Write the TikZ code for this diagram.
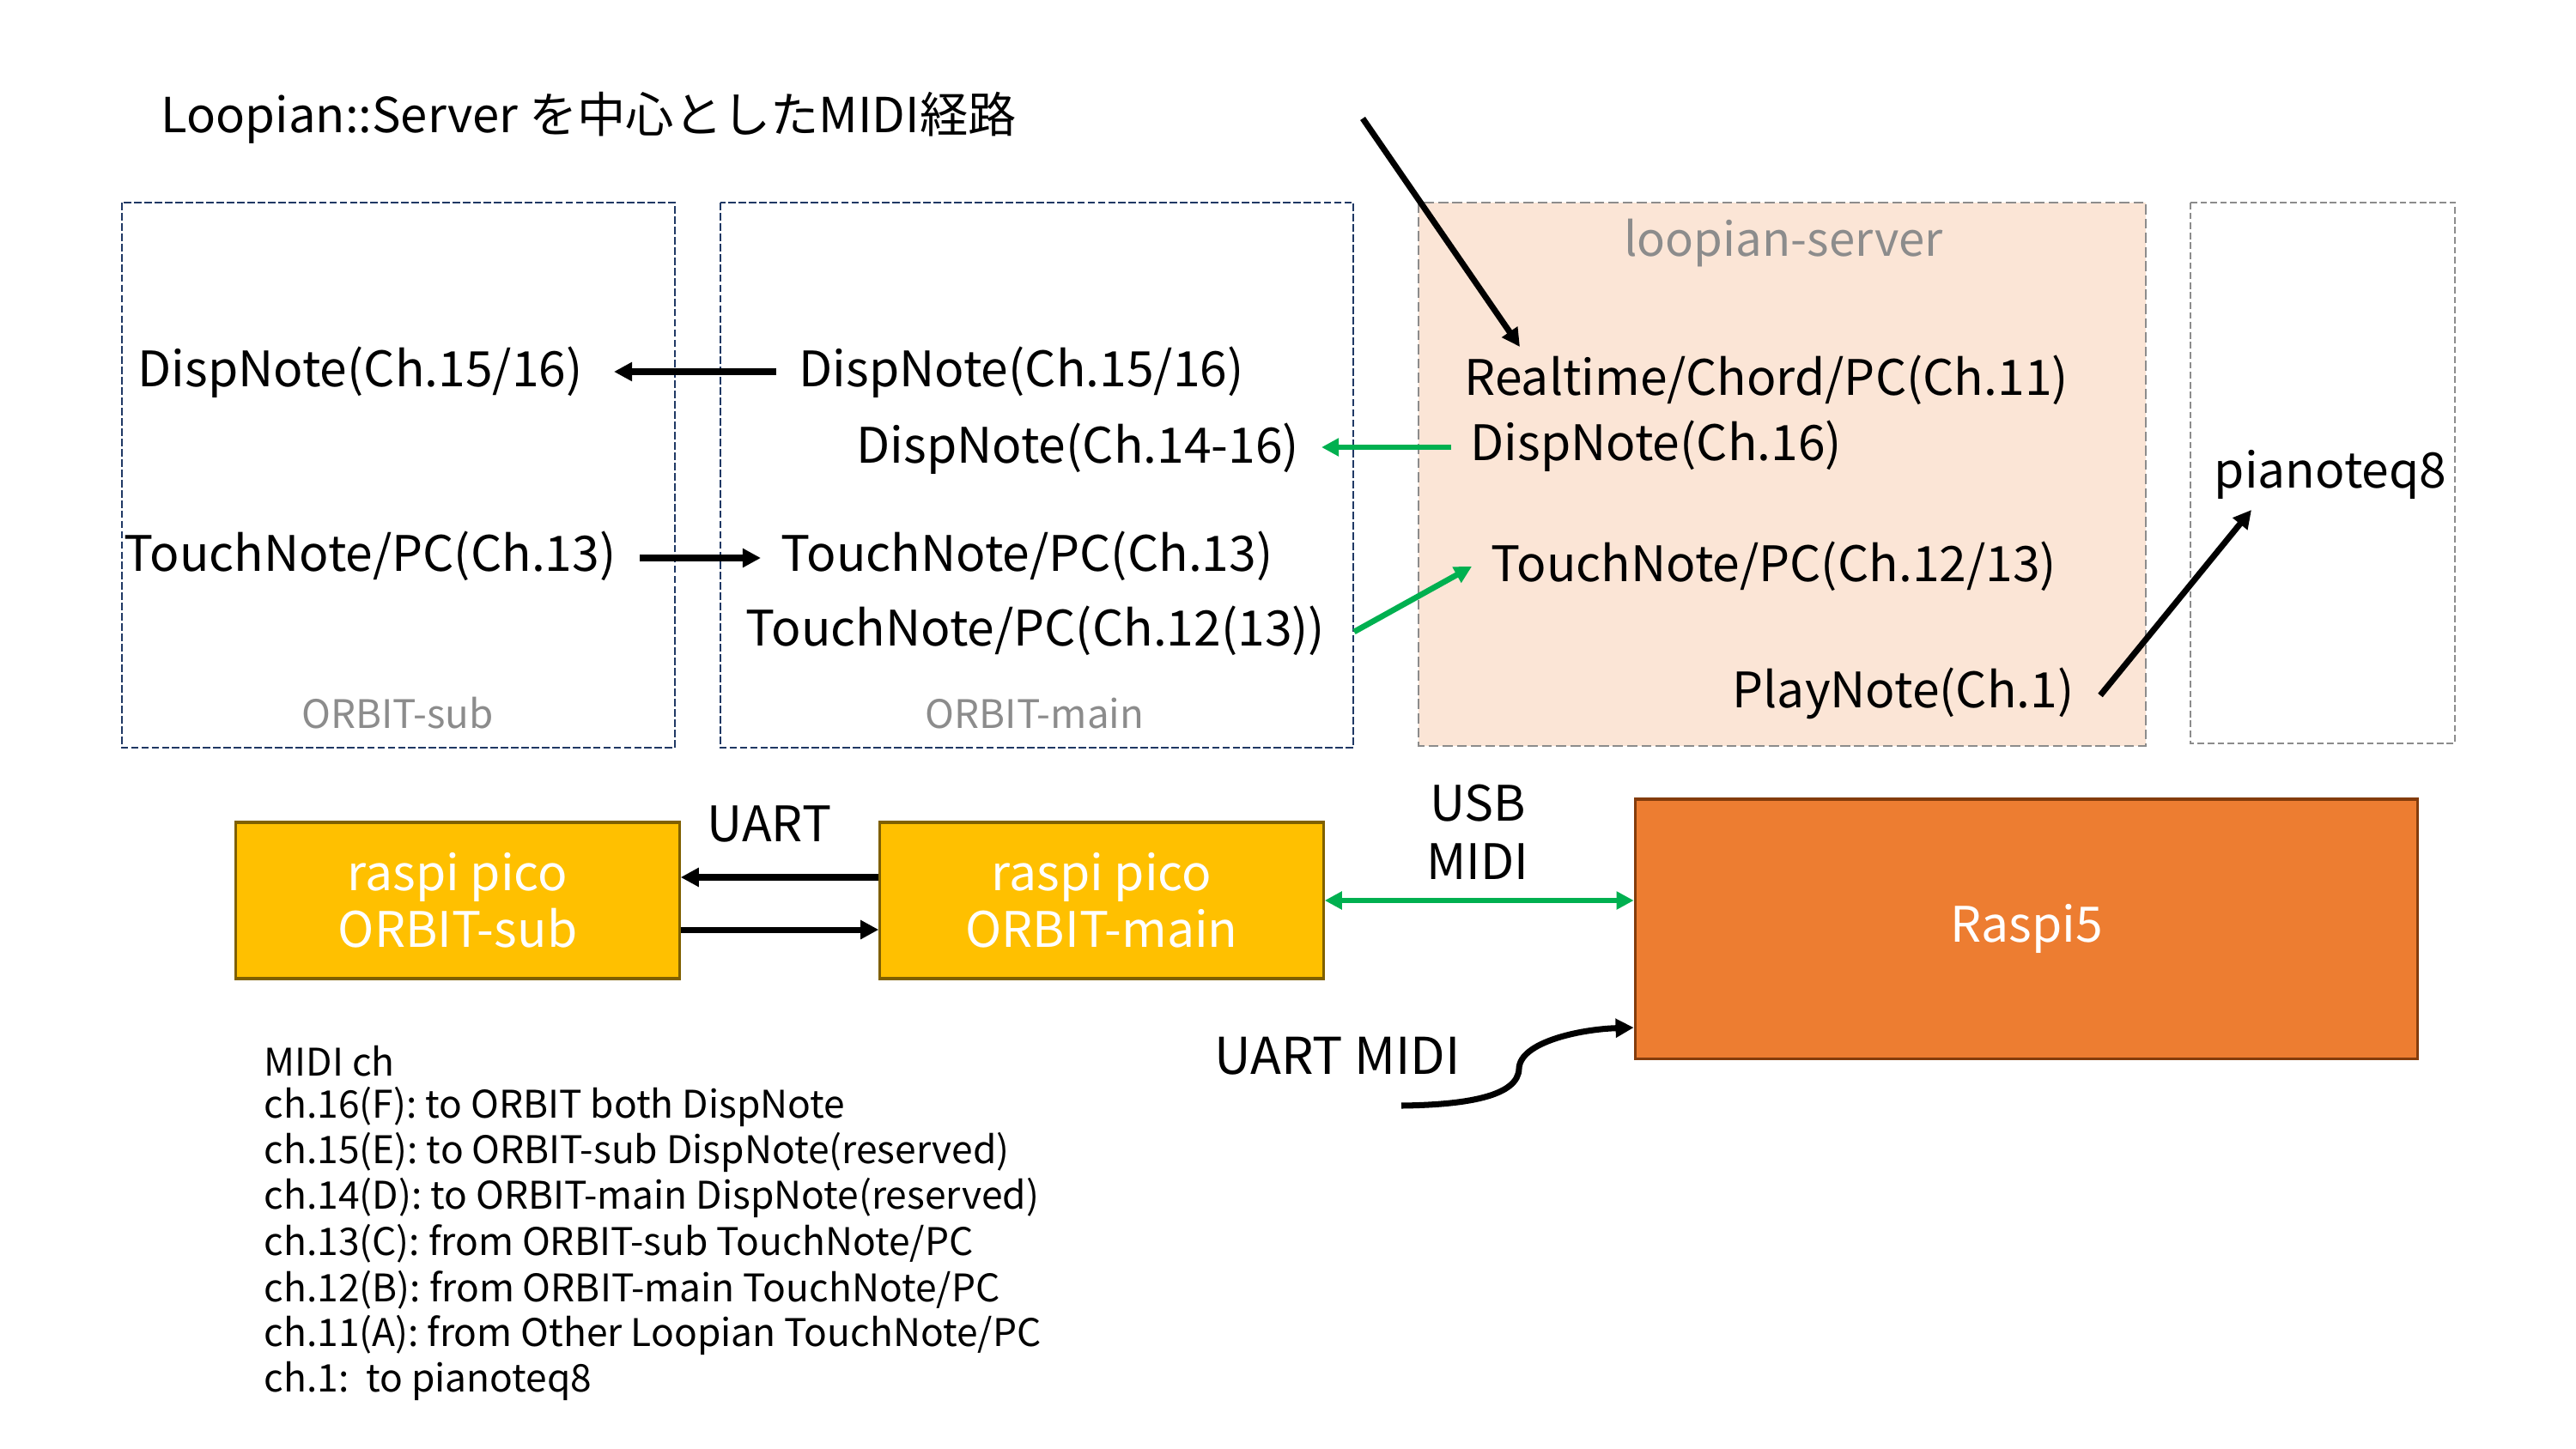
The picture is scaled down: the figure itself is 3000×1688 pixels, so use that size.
\documentclass[tikz,border=0pt]{standalone}
\usepackage{fontspec}
\setmainfont{Noto Sans CJK JP}
\usetikzlibrary{arrows.meta}
\definecolor{navy}{HTML}{1F3864}
\definecolor{grayln}{HTML}{8C8C8C}
\definecolor{peach}{HTML}{FBE5D6}
\definecolor{gold}{HTML}{FFC000}
\definecolor{goldln}{HTML}{7F6000}
\definecolor{orng}{HTML}{ED7D31}
\definecolor{orngln}{HTML}{843C0C}
\definecolor{grn}{HTML}{00B050}
\definecolor{lbl}{HTML}{8C8C8C}
\tikzset{
  txt/.style={inner sep=0pt, anchor=west, yshift=-0.04cm, font=\fontsize{16.2}{20}\selectfont},
  grp/.style={inner sep=0pt, font=\fontsize{13}{16}\selectfont, text=lbl},
  navybox/.style={draw=navy, line width=0.75pt, dash pattern=on 2.5pt off 0.9pt},
  graybox/.style={draw=grayln, line width=0.75pt, dash pattern=on 3.3pt off 1.4pt},
  pico/.style={draw=goldln, fill=gold, line width=0.9pt, minimum width=5.16cm, minimum height=1.82cm,
    inner sep=0pt, text=white, align=center, font=\fontsize{16.2}{18.7}\selectfont},
  blk/.style={line width=2pt, -{Triangle[length=6pt,width=6pt]}},
  grnarr/.style={draw=grn, line width=1.9pt, -{Triangle[length=5.7pt,width=5.7pt]}},
  lbltxt/.style={inner sep=0pt, font=\fontsize{16.2}{19.3}\selectfont, align=center},
  list/.style={inner sep=0pt, anchor=west, font=\fontsize{12.6}{16}\selectfont}
}
\begin{document}
\begin{tikzpicture}[x=0.01cm,y=-0.01cm]
\useasboundingbox (0,0) rectangle (3000,1688);
% title
\node[inner sep=0pt, anchor=west, font=\fontsize{16}{20}\selectfont] (title) at (187,137) {Loopian::Server を中心としたMIDI経路};
% group boxes
\draw[navybox] (142,236) rectangle (786,871);
\draw[navybox] (839,236) rectangle (1576,871);
\draw[graybox, fill=peach] (1652,236) rectangle (2499,869);
\draw[graybox, dash pattern=on 2.2pt off 1.1pt] (2551,236) rectangle (2859,866);
\node[grp] (lsub) at (463,831) {ORBIT-sub};
\node[grp] (lmain) at (1205,831) {ORBIT-main};
\node[grp, font=\fontsize{15.5}{20}\selectfont] (lsrv) at (2077,283) {loopian-server};
% texts
\node[txt] (subdisp) at (160,430) {DispNote(Ch.15/16)};
\node[txt] (maindisp) at (930,430) {DispNote(Ch.15/16)};
\node[txt] (maindisp14) at (997,519) {DispNote(Ch.14-16)};
\node[txt] (subtouch) at (144,644) {TouchNote/PC(Ch.13)};
\node[txt] (maintouch) at (909,644) {TouchNote/PC(Ch.13)};
\node[txt] (maintouch12) at (868,731) {TouchNote/PC(Ch.12(13))};
\node[txt] (srvrt) at (1705,439) {Realtime/Chord/PC(Ch.11)};
\node[txt] (srvdisp) at (1712,516) {DispNote(Ch.16)};
\node[txt] (srvtouch) at (1736,656) {TouchNote/PC(Ch.12/13)};
\node[txt] (srvplay) at (2017,804) {PlayNote(Ch.1)};
\node[txt] (pq) at (2578,549) {pianoteq8};
% arrow ends
\coordinate (a1s) at (904,433); \coordinate (a1e) at (715,433);
\coordinate (a2s) at (1690,521); \coordinate (a2e) at (1539,521);
\coordinate (a3s) at (745,650); \coordinate (a3e) at (886,650);
\coordinate (a4s) at (1577,736); \coordinate (a4e) at (1714,660);
\coordinate (a5s) at (1587,138); \coordinate (a5e) at (1770,404);
\coordinate (a6s) at (2446,810); \coordinate (a6e) at (2622,594);
\draw[blk] (a1s) -- (a1e);
\draw[grnarr] (a2s) -- (a2e);
\draw[blk] (a3s) -- (a3e);
\draw[grnarr] (a4s) -- (a4e);
\draw[blk] (a5s) -- (a5e);
\draw[blk] (a6s) -- (a6e);
% hardware
\node[pico] (picosub) at (533,1049) {raspi pico\\ORBIT-sub};
\node[pico] (picomain) at (1283,1049) {raspi pico\\ORBIT-main};
\node[draw=orngln, fill=orng, line width=0.9pt, minimum width=9.11cm, minimum height=3.02cm,
  inner sep=0pt, text=white, font=\fontsize{16.2}{20}\selectfont] (raspi5) at (2360,1082) {Raspi5};
\node[lbltxt] (uart) at (896,960) {UART};
\node[lbltxt] (usbmidi) at (1721,969) {USB\\MIDI};
\draw[blk] ([yshift=0.27cm]picomain.west) -- ([yshift=0.27cm]picosub.east);
\draw[blk] ([yshift=-0.34cm]picosub.east) -- ([yshift=-0.34cm]picomain.west);
\draw[grnarr, {Triangle[length=5.7pt,width=5.7pt]}-{Triangle[length=5.7pt,width=5.7pt]}] (picomain.east) -- (raspi5.west |- picomain.east);
% UART MIDI
\node[txt, font=\fontsize{16.8}{20}\selectfont] (uartmidi) at (1414,1226) {UART MIDI};
\coordinate (umstart) at (1632,1288);
\draw[blk] (umstart) .. controls (1712,1287) and (1768,1276) .. (1769,1245)
  .. controls (1770,1214) and (1840,1199) .. ([yshift=-1.15cm]raspi5.west);
% channel list
\foreach \t [count=\i from 0] in {MIDI ch,
  ch.16(F): to ORBIT both DispNote,
  ch.15(E): to ORBIT-sub DispNote(reserved),
  ch.14(D): to ORBIT-main DispNote(reserved),
  ch.13(C): from ORBIT-sub TouchNote/PC,
  ch.12(B): from ORBIT-main TouchNote/PC,
  ch.11(A): from Other Loopian TouchNote/PC,
  ch.1:\ \ to pianoteq8}
  \node[list] (l\i) at (307,1236+53.3*\i) {\t};
\end{tikzpicture}
\end{document}
